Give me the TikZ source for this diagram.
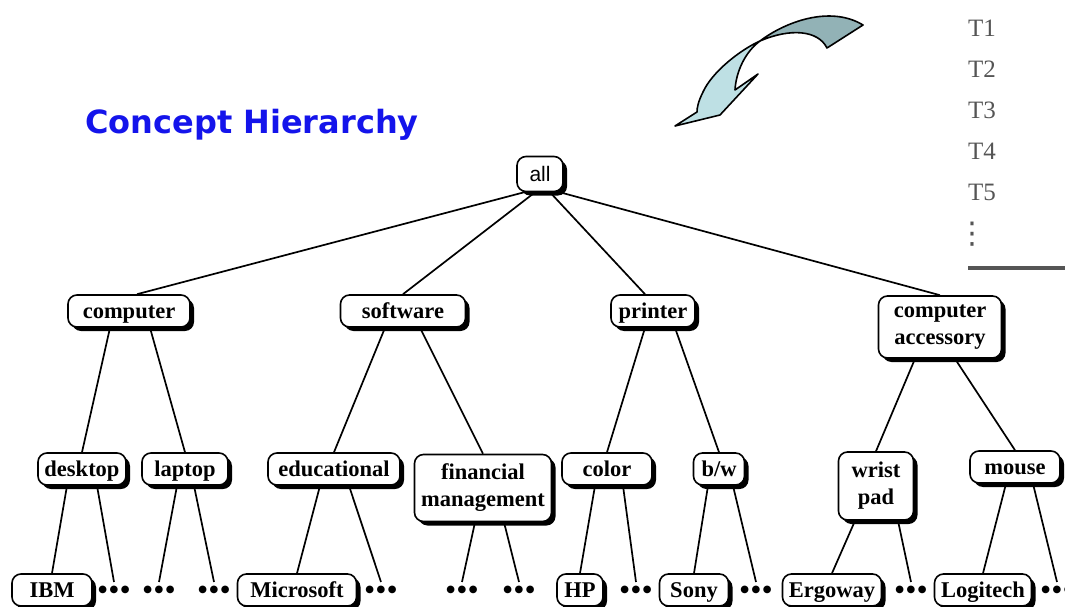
\documentclass[tikz,border=0pt]{standalone}
\usepackage{fontspec}
\setmainfont{Liberation Serif}
\newfontfamily\titlefont{DejaVu Sans}
\newfontfamily\arialfont{Liberation Sans}
\newfontfamily\symfont{DejaVu Sans}
\usetikzlibrary{shadows}
\definecolor{titleblue}{RGB}{20,20,235}
\definecolor{arrowlight}{RGB}{190,224,228}
\definecolor{arrowdark}{RGB}{146,178,182}
\definecolor{tablegray}{RGB}{85,85,85}
\newcommand{\tridots}{●\kern2.6pt●\kern2.6pt●}
\begin{document}
\begin{tikzpicture}[x=1pt,y=-1pt,
  box/.style={draw, line width=1.6pt, rounded corners=9pt, fill=white,
    drop shadow={shadow xshift=4pt, shadow yshift=-4pt, fill=black, opacity=1},
    font=\bfseries\fontsize{22.5}{27}\selectfont, inner sep=0pt, minimum height=32pt, align=center},
  one/.style={box, text height=16pt, text depth=2pt},
  dots/.style={font=\symfont\fontsize{10}{10}\selectfont, inner sep=0pt},
  link/.style={line width=1.7pt},
  ttext/.style={font=\fontsize{25}{25}\selectfont, text=tablegray, anchor=west, inner sep=0pt}
]
\useasboundingbox (0,0) rectangle (1065,607);

% title
\node[font=\titlefont\bfseries\fontsize{32}{33}\selectfont, text=titleblue, inner sep=0pt] (title) at (252,125) {Concept Hierarchy};

% twisted arrow
\fill[arrowlight, draw=black, line width=1.6pt, line join=round]
  (760,41) .. controls (740,50) and (712,72) .. (703,92)
  .. controls (698,102) and (697,108) .. (697,112)
  -- (675,126) -- (720,115) -- (758,74) -- (735,90)
  .. controls (736,72) and (745,52) .. (760,41) -- cycle;
\fill[arrowdark, draw=black, line width=1.6pt, line join=round]
  (760,41) .. controls (785,22) and (830,5) .. (863,25)
  -- (827,48)
  .. controls (818,30) and (790,28) .. (760,41) -- cycle;

% table fragment
\node[ttext] (t1) at (968,28) {T1};
\node[ttext] (t2) at (968,69) {T2};
\node[ttext] (t3) at (968,110) {T3};
\node[ttext] (t4) at (968,151) {T4};
\node[ttext] (t5) at (968,192) {T5};
\node[font=\symfont\fontsize{30}{30}\selectfont, text=tablegray, inner sep=0pt] (tv) at (972,234) {⋮};
\coordinate (rl) at (968,268);
\coordinate (rr) at (1065,268);
\draw[line width=4pt, tablegray] (rl) -- (rr);

% level 0
\node[box, text height=15pt, text depth=1pt, minimum width=46pt, minimum height=35pt, font=\arialfont\fontsize{21}{21}\selectfont] (all) at (540,174) {all};

% level 1
\node[one, minimum width=122pt] (computer) at (129,311) {computer};
\node[one, minimum width=125pt] (software) at (403,311) {software};
\node[one, minimum width=84pt] (printer) at (653,311) {printer};
\node[box, minimum width=123pt, minimum height=62pt] (access) at (940,327) {computer\\accessory};

% level 2
\node[one, minimum width=88pt] (desktop) at (82,469) {desktop};
\node[one, minimum width=86pt] (laptop) at (185,469) {laptop};
\node[one, minimum width=132pt] (edu) at (334,469) {educational};
\node[box, minimum width=137pt, minimum height=67pt] (fin) at (483,488) {financial\\management};
\node[one, minimum width=90pt] (color) at (607,469) {color};
\node[one, minimum width=51pt] (bw) at (719,469) {b/w};
\node[box, minimum width=75pt, minimum height=68pt] (wrist) at (876,486) {wrist\\pad};
\node[one, minimum width=90pt] (mouse) at (1015,467) {mouse};

% level 3
\node[one, minimum width=80pt] (ibm) at (52,590) {IBM};
\node[one, minimum width=119pt] (ms) at (297,590) {Microsoft};
\node[one, minimum width=46pt] (hp) at (580,590) {HP};
\node[one, minimum width=69pt] (sony) at (694,590) {Sony};
\node[one, minimum width=99pt] (ergo) at (832,590) {Ergoway};
\node[one, minimum width=97pt] (logi) at (983,590) {Logitech};

\node[dots] (d1) at (114,590) {\tridots};
\node[dots] (d2) at (159,590) {\tridots};
\node[dots] (d3) at (214,590) {\tridots};
\node[dots] (d4) at (381,590) {\tridots};
\node[dots] (d5) at (462,590) {\tridots};
\node[dots] (d6) at (519,590) {\tridots};
\node[dots] (d7) at (636,590) {\tridots};
\node[dots] (d8) at (756,590) {\tridots};
\node[dots] (d9) at (911,590) {\tridots};
\node[dots] (d10) at (1057,590) {\tridots};

% connectors level 0-1
\draw[link] (all.south) ++(-16,0) -- ([xshift=8pt]computer.north);
\draw[link] (all.south) ++(-5,0) -- (software.north);
\draw[link] (all.south) ++(10,0) -- ([xshift=-8pt]printer.north);
\draw[link] (all.south) ++(20,0) -- (access.north);

% level 1-2
\draw[link] (computer.south) ++(-19,0) -- (desktop.north);
\draw[link] (computer.south) ++(21,0) -- (laptop.north);
\draw[link] (software.south) ++(-18,0) -- (edu.north);
\draw[link] (software.south) ++(17,0) -- (fin.north);
\draw[link] (printer.south) ++(-8,0) -- (color.north);
\draw[link] (printer.south) ++(22,0) -- (bw.north);
\draw[link] (access.south) ++(-25,0) -- (wrist.north);
\draw[link] (access.south) ++(15,0) -- (mouse.north);

% level 2-3
\draw[link] (desktop.south) ++(-15,0) -- (ibm.north);
\draw[link] (desktop.south) ++(15,0) -- ([yshift=4pt]d1.north);
\draw[link] (laptop.south) ++(-8,0) -- ([yshift=4pt]d2.north);
\draw[link] (laptop.south) ++(9,0) -- ([yshift=4pt]d3.north);
\draw[link] (edu.south) ++(-14,0) -- (ms.north);
\draw[link] (edu.south) ++(15,0) -- ([yshift=4pt]d4.north);
\draw[link] (fin.south) ++(-8,0) -- ([yshift=4pt]d5.north);
\draw[link] (fin.south) ++(21,0) -- ([yshift=4pt]d6.north);
\draw[link] (color.south) ++(-12,0) -- (hp.north);
\draw[link] (color.south) ++(16,0) -- ([yshift=4pt]d7.north);
\draw[link] (bw.south) ++(-11,0) -- (sony.north);
\draw[link] (bw.south) ++(14,0) -- ([yshift=4pt]d8.north);
\draw[link] (wrist.south) ++(-21,0) -- (ergo.north);
\draw[link] (wrist.south) ++(22,0) -- ([yshift=4pt]d9.north);
\draw[link] (mouse.south) ++(-9,0) -- (logi.north);
\draw[link] (mouse.south) ++(18,0) -- ([yshift=4pt]d10.north);
\end{tikzpicture}
\end{document}
